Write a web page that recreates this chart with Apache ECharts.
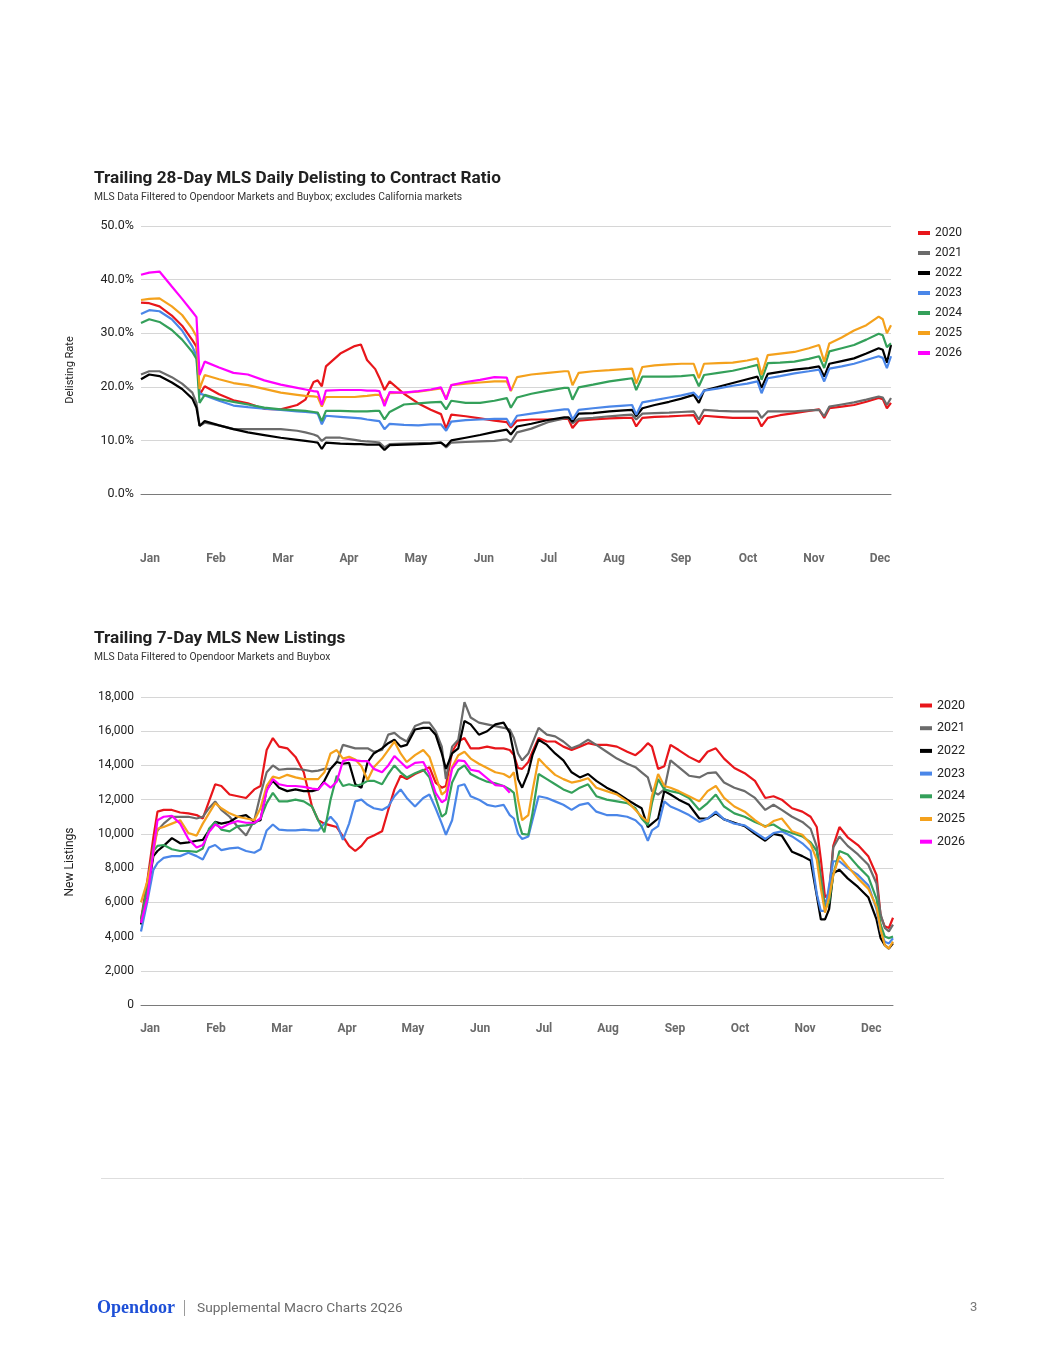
<!DOCTYPE html>
<html>
<head>
<meta charset="utf-8">
<script src="https://cdn.jsdelivr.net/npm/echarts@6/dist/echarts.min.js"></script>
<style>
html,body{margin:0;padding:0;background:#fff;}
#c{width:1055px;height:1365px;}
</style>
</head>
<body>
<div id="c"></div>
<script>
// ---------- shared ----------
const MONTHS = ['Jan','Feb','Mar','Apr','May','Jun','Jul','Aug','Sep','Oct','Nov','Dec'];
const YEARS = ['2020','2021','2022','2023','2024','2025','2026'];
const COLORS = ['#e8161b','#6b6b6b','#000000','#4a86e8','#34a05a','#f4a11c','#ff00ff'];

// ---------- chart 1: Trailing 28-Day delisting to contract ratio (%) ----------
const MONTH_POS_1 = [4.4, 36.5, 69.1, 101.2, 133.8, 166.9, 198.5, 230.2, 262.8, 295.4, 327.5, 359.6];
const DAYS_1 = [0,4,9,15,20,25,27,28.5,31,38,
  45,52,60,68,76,80,84,86,88,90,
  97,104,107,110,114,116,118.5,121,128,135,
  141,146,148.5,151,158,165,172,178,180,183,
  190,198,206,208,210,213,220,228,235,239,
  241,244,250,257,263,269,271.5,274,281,288,
  295,300,302,305,311,318,325,330,332.5,335,
  341,347,353,359,361,363,365];
const DELIST_2020 = [35.7,35.6,35.0,33.3,31.4,28.7,27.5,18.5,20.1,18.6,
  17.5,16.9,15.9,15.8,16.6,17.6,20.9,21.2,20.1,23.8,
  26.2,27.6,27.9,25.0,23.3,21.7,19.4,21.0,18.7,16.9,
  15.7,14.9,12.2,14.8,14.5,14.1,13.7,13.4,12.4,13.7,
  13.9,13.9,14.0,14.0,12.3,13.7,13.9,14.1,14.2,14.2,
  12.6,14.2,14.4,14.5,14.6,14.7,13.0,14.6,14.4,14.2,
  14.2,14.2,12.6,14.2,14.7,15.1,15.5,15.8,14.2,16.0,
  16.3,16.6,17.2,17.9,17.7,16.0,17.0];
const DELIST_2021 = [22.3,22.9,22.9,21.8,20.6,18.9,17.0,12.7,13.3,12.8,
  12.1,12.1,12.1,12.1,11.8,11.5,11.1,10.8,9.9,10.5,
  10.5,10.1,9.9,9.8,9.7,9.6,8.7,9.3,9.4,9.5,
  9.5,9.6,8.7,9.6,9.7,9.8,9.9,10.2,9.7,11.5,
  12.2,13.4,14.1,14.2,13.2,14.0,14.2,14.5,14.7,14.8,
  13.9,15.0,15.1,15.2,15.3,15.4,13.9,15.7,15.5,15.4,
  15.4,15.4,14.2,15.4,15.4,15.4,15.6,15.7,14.5,16.3,
  16.7,17.1,17.6,18.2,18.0,16.6,17.9];
const DELIST_2022 = [21.4,22.3,22.0,20.8,19.6,17.8,16.1,12.7,13.6,12.8,
  12.1,11.5,11.0,10.5,10.1,9.9,9.7,9.6,8.4,9.6,
  9.4,9.3,9.3,9.2,9.2,9.2,8.2,9.1,9.2,9.3,
  9.4,9.6,8.9,10.0,10.5,11.0,11.6,12.0,11.1,12.6,
  13.1,13.8,14.3,14.3,13.5,15.0,15.1,15.4,15.6,15.7,
  14.5,16.0,16.6,17.2,17.8,18.5,17.0,19.3,20.0,20.7,
  21.4,21.9,19.8,22.4,22.8,23.2,23.5,23.8,21.9,24.3,
  24.8,25.3,26.2,27.2,26.9,24.5,27.8];
const DELIST_2023 = [33.6,34.3,34.1,32.6,30.5,27.5,25.8,18.8,18.4,17.4,
  16.5,16.2,15.9,15.7,15.4,15.3,15.2,15.0,13.0,14.6,
  14.4,14.2,14.1,13.9,13.7,13.6,12.1,13.1,12.9,12.8,
  13.0,13.0,11.8,13.5,13.8,13.9,14.0,14.0,12.7,14.6,
  15.0,15.4,15.8,15.8,13.9,15.7,16.0,16.3,16.5,16.6,
  14.8,17.1,17.5,18.0,18.4,18.9,17.9,19.3,19.7,20.2,
  20.6,21.0,18.8,21.6,22.0,22.5,22.9,23.2,21.0,23.4,
  23.8,24.3,25.0,25.7,25.4,23.5,25.7];
const DELIST_2024 = [31.9,32.6,32.1,30.6,28.8,26.5,25.2,17.0,18.5,17.7,
  17.2,16.7,16.1,15.8,15.6,15.5,15.3,15.2,13.6,15.5,
  15.5,15.4,15.4,15.4,15.5,15.5,13.9,15.3,16.7,16.9,
  17.1,17.2,15.8,17.4,17.0,17.0,17.4,17.9,16.1,18.0,
  18.7,19.3,19.8,19.8,17.6,19.9,20.4,21.0,21.4,21.6,
  19.4,21.9,21.9,21.9,22.0,22.2,20.1,22.2,22.6,23.0,
  23.6,24.1,21.3,24.4,24.5,24.7,25.2,25.7,23.5,26.6,
  27.2,27.8,28.8,29.9,29.6,27.4,28.1];
const DELIST_2025 = [36.2,36.4,36.5,35.0,33.4,30.8,29.4,19.6,22.2,21.4,
  20.7,20.3,19.6,18.9,18.5,18.3,18.2,18.1,16.3,18.1,
  18.1,18.1,18.2,18.3,18.5,18.5,17.2,18.8,18.9,19.1,
  19.4,19.7,17.8,20.3,20.6,20.8,21.0,21.0,19.2,21.8,
  22.3,22.6,22.9,22.9,20.3,22.6,22.9,23.1,23.3,23.4,
  20.6,23.7,24.0,24.2,24.3,24.3,21.6,24.3,24.4,24.5,
  24.9,25.3,22.2,25.9,26.2,26.5,27.2,27.8,24.7,28.1,
  29.2,30.5,31.5,33.1,32.6,30.0,31.5];
const DELIST_2026 = [40.9,41.3,41.5,38.7,36.4,34.0,33.0,22.2,24.7,23.6,
  22.6,22.3,21.2,20.4,19.8,19.5,19.2,19.1,16.6,19.3,
  19.4,19.4,19.4,19.3,19.3,19.2,16.4,19.0,18.9,19.2,
  19.5,19.9,17.6,20.3,20.9,21.3,21.8,21.7,19.3];

// ---------- chart 2: Trailing 7-Day new listings ----------
const MONTH_POS_2 = [4.4, 36.4, 68.4, 100, 132, 164.6, 195.6, 226.7, 259.2, 290.8, 322.3, 354.4];
const DAYS_2 = [0,3,6,8,11,15,19,23,27,30,
  33,36,39,43,47,51,55,58,61,64,
  67,71,75,79,83,86,89,92,95,98,
  101,104,107,110,113,117,120,123,126,129,
  133,137,140,143,146,148,151,154,157,160,
  164,168,172,176,179,181,183,185,188,190,
  193,197,201,205,209,213,217,221,226,231,
  236,240,243,246,248,251,254,257,261,266,
  271,275,279,283,288,293,298,303,307,311,
  316,321,325,328,330,332,334,336,339,343,
  348,353,357,359,361,363,365];
const NEW_2020 = [5000,7200,9800,11300,11400,11400,11250,11200,11100,10900,
  11900,12900,12800,12300,12200,12100,12600,12800,14900,15600,
  15100,15000,14500,13600,11600,10800,10600,10500,10400,9850,
  9300,9000,9300,9750,9900,10150,11400,12600,13400,13200,
  13500,13700,13900,13000,12700,12800,14800,15400,15600,15000,
  15000,15100,15000,15000,14900,14600,13850,13800,14200,14800,
  15600,15400,15400,15100,14900,15100,15300,15200,15200,15100,
  14800,14600,14900,15300,15100,13800,13950,15200,14900,14500,
  14200,14800,15000,14400,13850,13550,13100,12100,12200,12000,
  11500,11300,11000,10400,8500,6300,6500,9300,10400,9800,
  9350,8700,7600,5200,4600,4500,5100];
const NEW_2021 = [4800,7000,9300,10200,10600,11000,11000,11000,10900,11000,
  11500,11900,11400,11000,10400,9900,10800,12300,13600,14000,
  13750,13800,13800,13750,13650,13700,13800,13800,14200,15200,
  15100,15000,15000,15000,14800,14900,15800,15900,15600,15400,
  16300,16500,16500,16000,15100,13200,15100,15500,17700,16800,
  16500,16400,16300,16200,16100,15600,14700,14300,14700,15300,
  16200,15800,15700,15400,15000,15200,15500,15200,14800,14400,
  14100,13900,13600,13300,12500,12300,12600,14300,13900,13400,
  13300,13550,13600,13000,12700,12500,12100,11400,11700,11400,
  11000,10700,10300,9250,7500,5800,6600,9200,9850,9300,
  8800,8200,7100,5300,4500,4300,4700];
const NEW_2022 = [4700,6500,8700,9000,9300,9750,9450,9500,9600,9650,
  10200,10700,10600,10700,11000,11100,10700,10800,12600,13100,
  12700,12500,12600,12500,12500,12600,13100,13800,14200,14100,
  14150,12900,12700,14200,14700,15000,15300,15500,15100,15200,
  16100,16200,16200,15800,14700,13800,14700,15000,16600,16400,
  15800,16000,16400,16500,15900,14700,13200,12700,13600,14600,
  15500,15200,14700,14300,13600,13300,13500,13100,12700,12400,
  12000,11700,11500,10400,10600,10900,12500,12300,12000,11700,
  10900,10900,11200,10850,10650,10450,10000,9600,10000,9900,
  8950,8700,8450,6400,5000,5000,5600,7700,7900,7400,
  6900,6300,5000,3900,3500,3300,3600];
const NEW_2023 = [4300,6000,7900,8300,8600,8700,8700,8900,8700,8500,
  9200,9350,9050,9150,9200,9000,8900,9100,10200,10550,
  10250,10200,10200,10250,10200,10200,10600,11000,10600,9650,
  10600,11900,12000,11700,11500,11400,11600,12200,12600,12100,
  11600,12100,12300,11500,10600,9950,10800,12800,12900,12200,
  12000,11700,11600,11700,11100,10900,10000,9700,9850,10800,
  12200,12100,11900,11700,11400,11700,11800,11300,11100,11100,
  11000,10800,10450,9600,10200,10450,11900,11600,11400,11100,
  10700,10900,11300,10850,10600,10500,10100,9700,10050,10150,
  9850,9450,9000,6500,5500,5500,7000,8400,8400,8000,
  7600,7000,5600,4300,3700,3600,3900];
const NEW_2024 = [5000,6700,9000,9300,9350,9100,9000,9000,8950,9150,
  10300,10700,10250,10150,10450,10500,10600,10900,11800,12400,
  11900,11900,12000,11900,11600,10800,10100,12000,13400,12800,
  12900,12800,12900,13100,13100,12900,13500,14000,13600,13300,
  13550,13750,13300,12100,11000,11200,13000,13750,14000,13500,
  13250,13050,12950,12800,12600,12400,10800,10000,9950,11200,
  13500,13200,12900,12600,12400,12700,12900,12200,12000,11900,
  11800,11500,10900,10500,11800,13200,12600,12500,12400,12100,
  11400,11800,12300,11600,11200,11000,10700,10450,10550,10250,
  10050,9850,9500,9000,7200,5600,6000,7600,9000,8800,
  8100,7500,6200,4700,4000,3900,4000];
const NEW_2025 = [6000,7200,8900,10300,10400,10600,10800,10050,9900,10600,
  11200,11800,11500,11200,11000,10900,10800,11500,12800,13350,
  13250,13450,13300,13200,13200,13200,13600,14700,14900,14400,
  14500,14350,13950,13150,13900,14400,14900,15400,14700,14200,
  14600,14900,14500,13400,12300,12500,13900,14600,14800,14400,
  14100,13850,13600,13500,13300,13600,12000,10800,11100,12500,
  14400,13900,13450,13200,13000,13100,13250,12700,12500,12300,
  11900,11400,11000,10700,12200,13500,12800,12700,12500,12200,
  11900,12500,12800,12100,11600,11300,10800,10400,10750,10900,
  10150,9950,9400,8500,6800,5400,6300,7600,8700,8100,
  7400,6800,5750,4400,3500,3300,3700];
const NEW_2026 = [4800,6200,9000,10800,11000,11050,10600,9700,9200,9350,
  10100,10550,10350,10600,10750,10650,10650,10900,12500,13200,
  12900,12800,12800,12750,12650,12600,13000,12700,13050,14250,
  14350,14300,14250,14250,13800,13600,14000,14550,14200,13850,
  14150,14200,13500,12400,11850,12000,13800,14300,14250,13750,
  13650,13250,12850,12800,12400];

const DELIST = [DELIST_2020, DELIST_2021, DELIST_2022, DELIST_2023, DELIST_2024, DELIST_2025, DELIST_2026];
const NEWL = [NEW_2020, NEW_2021, NEW_2022, NEW_2023, NEW_2024, NEW_2025, NEW_2026];

const FONT = 'Roboto, "Noto Sans", sans-serif';
const pairs = (days, vals) => vals.map((v, i) => [days[i], v]);
const monthFmt = (pos) => (v) => {
  let best = 0, bd = 1e9;
  pos.forEach((p, i) => { const d = Math.abs(p - v); if (d < bd) { bd = d; best = i; } });
  return MONTHS[best];
};

const chart = echarts.init(document.getElementById('c'), null, {renderer: 'canvas'});

const series = [];
YEARS.forEach((y, i) => {
  series.push({
    name: y, type: 'line', xAxisIndex: 0, yAxisIndex: 0,
    data: pairs(DAYS_1, DELIST[i]), showSymbol: false, symbol: 'none',
    lineStyle: {width: 2.2, color: COLORS[i]}, itemStyle: {color: COLORS[i]},
    emphasis: {disabled: true}, silent: true, z: 2 + i
  });
});
YEARS.forEach((y, i) => {
  series.push({
    name: y, type: 'line', xAxisIndex: 1, yAxisIndex: 1,
    data: pairs(DAYS_2, NEWL[i]), showSymbol: false, symbol: 'none',
    lineStyle: {width: 2.2, color: COLORS[i]}, itemStyle: {color: COLORS[i]},
    emphasis: {disabled: true}, silent: true, z: 2 + i
  });
});

const xAxisBase = (pos, margin) => ({
  type: 'value', min: 0, max: 365,
  axisLine: {show: true, onZero: false, lineStyle: {color: '#7a7a7a', width: 1}},
  axisTick: {show: false},
  splitLine: {show: false},
  axisLabel: {
    customValues: pos, formatter: monthFmt(pos), margin: margin,
    color: '#6a6a6a', fontWeight: 'bold', fontSize: 12, fontFamily: FONT
  }
});

const option = {
  backgroundColor: '#ffffff',
  animation: false,
  textStyle: {fontFamily: FONT},
  title: [
    {text: 'Trailing 28-Day MLS Daily Delisting to Contract Ratio',
     subtext: 'MLS Data Filtered to Opendoor Markets and Buybox; excludes California markets',
     left: 89, top: 165, itemGap: 5,
     textStyle: {fontSize: 17.2, fontWeight: 'bold', color: '#212121', fontFamily: FONT},
     subtextStyle: {fontSize: 10.3, color: '#333333', fontFamily: FONT}},
    {text: 'Trailing 7-Day MLS New Listings',
     subtext: 'MLS Data Filtered to Opendoor Markets and Buybox',
     left: 89, top: 625, itemGap: 5,
     textStyle: {fontSize: 17.2, fontWeight: 'bold', color: '#212121', fontFamily: FONT},
     subtextStyle: {fontSize: 10.3, color: '#333333', fontFamily: FONT}}
  ],
  legend: [
    {data: YEARS, orient: 'vertical', left: 913, top: 222, icon: 'rect',
     itemWidth: 12, itemHeight: 4, itemGap: 8, selectedMode: false,
     textStyle: {fontSize: 12, color: '#222', fontFamily: FONT}},
    {data: YEARS, orient: 'vertical', left: 915, top: 694, icon: 'rect',
     itemWidth: 12, itemHeight: 4, itemGap: 9.7, selectedMode: false,
     textStyle: {fontSize: 12.5, color: '#222', fontFamily: FONT}}
  ],
  grid: [
    {left: 141, top: 226, width: 750, height: 268, containLabel: false},
    {left: 141, top: 697, width: 752, height: 308, containLabel: false}
  ],
  xAxis: [
    Object.assign(xAxisBase(MONTH_POS_1, 59), {gridIndex: 0}),
    Object.assign(xAxisBase(MONTH_POS_2, 18), {gridIndex: 1})
  ],
  yAxis: [
    {type: 'value', gridIndex: 0, min: 0, max: 50, interval: 10,
     axisLine: {show: false}, axisTick: {show: false},
     splitLine: {lineStyle: {color: '#d6d6d6', width: 1}},
     axisLabel: {formatter: v => v.toFixed(1) + '%', color: '#222', fontSize: 12.5, margin: 7, fontFamily: FONT}},
    {type: 'value', gridIndex: 1, min: 0, max: 18000, interval: 2000,
     axisLine: {show: false}, axisTick: {show: false},
     splitLine: {lineStyle: {color: '#d6d6d6', width: 1}},
     axisLabel: {formatter: v => v.toLocaleString('en-US'), color: '#222', fontSize: 12, margin: 7, fontFamily: FONT}}
  ],
  graphic: [
    {type: 'text', x: 70, y: 370, rotation: Math.PI / 2,
     style: {text: 'Delisting Rate', fontSize: 11, fill: '#222', fontFamily: FONT, align: 'center', verticalAlign: 'middle'}},
    {type: 'text', x: 70, y: 862, rotation: Math.PI / 2,
     style: {text: 'New Listings', fontSize: 12, fill: '#222', fontFamily: FONT, align: 'center', verticalAlign: 'middle'}},
    {type: 'line', shape: {x1: 101, y1: 1178.5, x2: 944, y2: 1178.5}, style: {stroke: '#dedede', lineWidth: 1}},
    {type: 'text', x: 97, y: 1308,
     style: {text: 'Opendoor', fontSize: 18, fontWeight: 'bold', fill: '#1d4fd7', fontFamily: '"Liberation Serif", "DejaVu Serif", serif', verticalAlign: 'middle'}},
    {type: 'line', shape: {x1: 184.5, y1: 1300, x2: 184.5, y2: 1316}, style: {stroke: '#9a9a9a', lineWidth: 1}},
    {type: 'text', x: 197, y: 1309,
     style: {text: 'Supplemental Macro Charts 2Q26', fontSize: 13.7, fill: '#6b6b6b', fontFamily: FONT, verticalAlign: 'middle'}},
    {type: 'text', x: 970, y: 1308,
     style: {text: '3', fontSize: 13, fill: '#777', fontFamily: FONT, verticalAlign: 'middle'}}
  ],
  series: series
};
chart.setOption(option);
</script>
</body>
</html>
